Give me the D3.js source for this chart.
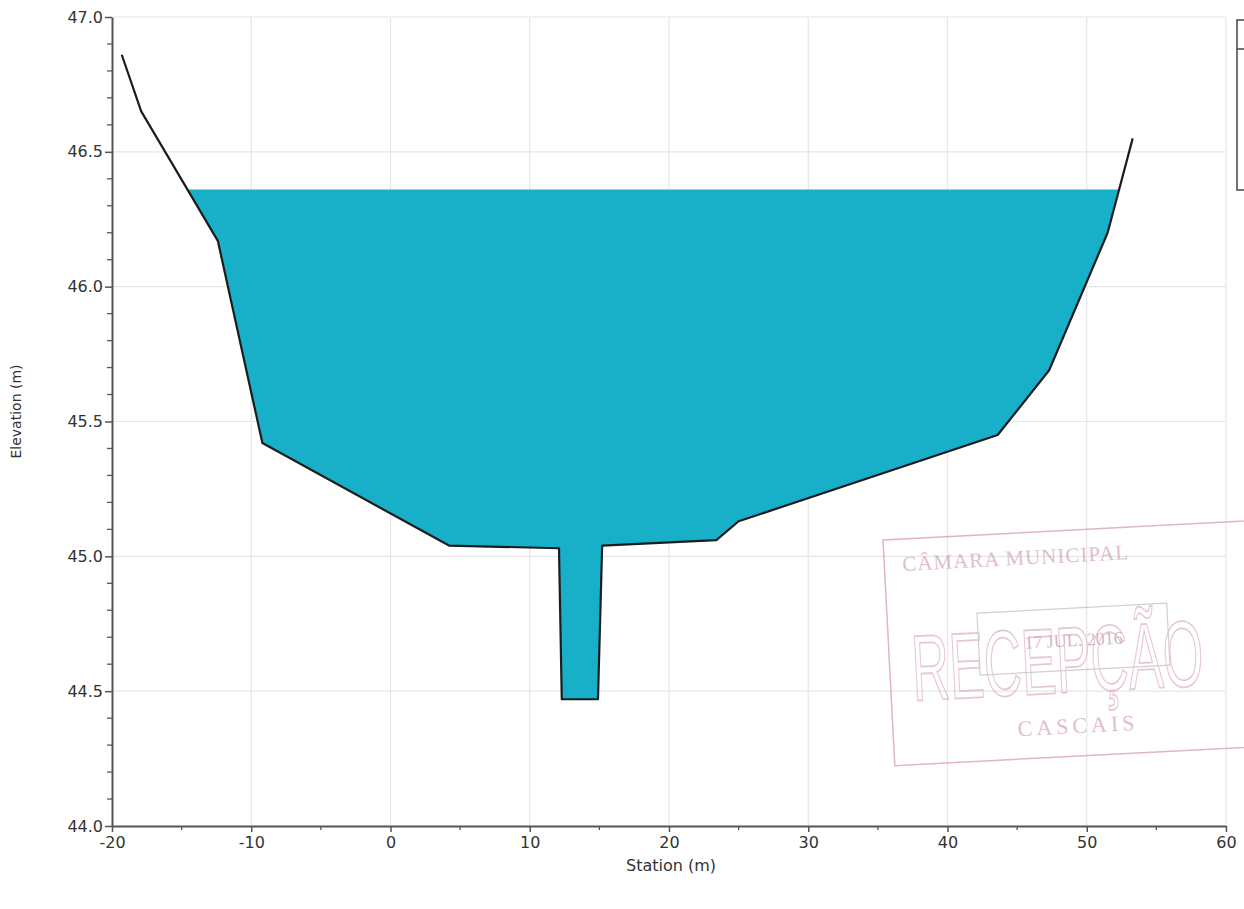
<!DOCTYPE html>
<html><head><meta charset="utf-8">
<script src="https://cdn.jsdelivr.net/npm/d3@7"></script>
<style>body{margin:0;background:#fff;} text{font-family:"DejaVu Sans",Arial,sans-serif;}</style>
</head><body>
<svg id="c" width="1244" height="909"></svg>
<script>
// Ground profile (station m, elevation m)
const station   = [-19.3, -17.9, -12.4, -9.2, 4.2, 12.1, 12.3, 14.9, 15.2, 23.4, 25.0, 43.6, 47.3, 51.5, 53.3];
const elevation = [46.86, 46.65, 46.17, 45.42, 45.04, 45.03, 44.47, 44.47, 45.04, 45.06, 45.13, 45.45, 45.69, 46.20, 46.55];
const waterLevel = 46.36;
const xTicks = [-20, -10, 0, 10, 20, 30, 40, 50, 60];
const yTicks = [44.0, 44.5, 45.0, 45.5, 46.0, 46.5, 47.0];
const xLabel = "Station (m)";
const yLabel = "Elevation (m)";

const svg = d3.select("#c");
const L = 112, R = 1226, T = 17, B = 826;
const x = d3.scaleLinear().domain([-20, 60]).range([L, R]);
const y = d3.scaleLinear().domain([44, 47]).range([B, T]);
const FONT = "'DejaVu Sans', Arial, sans-serif";

// grid
svg.append("g").selectAll("line").data(xTicks.slice(1)).join("line")
  .attr("x1", d => x(d)).attr("x2", d => x(d)).attr("y1", T).attr("y2", B)
  .attr("stroke", "#e6e6e6").attr("stroke-width", 1.2);
svg.append("g").selectAll("line").data(yTicks.slice(1)).join("line")
  .attr("x1", L).attr("x2", R).attr("y1", d => y(d)).attr("y2", d => y(d))
  .attr("stroke", "#e6e6e6").attr("stroke-width", 1.2);

// water polygon: ground below water level, clipped at intersections
const pts = station.map((s, i) => [s, elevation[i]]);
function crossings() {
  const out = [];
  for (let i = 0; i < pts.length - 1; i++) {
    const [x0, y0] = pts[i], [x1, y1] = pts[i + 1];
    if ((y0 - waterLevel) * (y1 - waterLevel) < 0) {
      const t = (waterLevel - y0) / (y1 - y0);
      out.push({i, s: x0 + t * (x1 - x0)});
    }
  }
  return out;
}
const cr = crossings();
const a = cr[0], b = cr[cr.length - 1];
const poly = [[a.s, waterLevel]];
for (let i = a.i + 1; i <= b.i; i++) poly.push(pts[i]);
poly.push([b.s, waterLevel]);
svg.append("path")
  .attr("d", d3.line().x(d => x(d[0])).y(d => y(d[1]))(poly) + "Z")
  .attr("fill", "#18afc8");

// ground line
svg.append("path").datum(pts)
  .attr("d", d3.line().x(d => x(d[0])).y(d => y(d[1])))
  .attr("fill", "none").attr("stroke", "#1c1c1c").attr("stroke-width", 2.2)
  .attr("stroke-linejoin", "round");

// axes
const xAxis = d3.axisBottom(x).tickValues(xTicks).tickFormat(d => String(d)).tickSize(6).tickSizeOuter(0);
const gx = svg.append("g").attr("transform", `translate(0,${B})`).call(xAxis);
const yAxis = d3.axisLeft(y).tickValues(yTicks).tickFormat(d => d.toFixed(1)).tickSize(7).tickSizeOuter(0);
const gy = svg.append("g").attr("transform", `translate(${L},0)`).call(yAxis);
[gx, gy].forEach(g => {
  g.attr("font-family", FONT).attr("font-size", 16);
  g.select(".domain").attr("stroke", "#555").attr("stroke-width", 2);
  g.selectAll(".tick line").attr("stroke", "#555").attr("stroke-width", 1.5);
  g.selectAll(".tick text").attr("fill", "#333").style("font-size", "16px").style("font-family", FONT);
});
gx.selectAll(".tick text").attr("dy", "0.8em").attr("y", 9);
gy.selectAll(".tick text").attr("x", -9);
// minor ticks
svg.append("g").selectAll("line").data(d3.range(-15, 60, 10)).join("line")
  .attr("x1", d => x(d)).attr("x2", d => x(d)).attr("y1", B).attr("y2", B + 4)
  .attr("stroke", "#555").attr("stroke-width", 1.3);
svg.append("g").selectAll("line").data(d3.range(44, 47.001, 0.1).filter(v => Math.abs(v * 2 - Math.round(v * 2)) > 0.01)).join("line")
  .attr("x1", L - 5).attr("x2", L).attr("y1", d => y(d)).attr("y2", d => y(d))
  .attr("stroke", "#555").attr("stroke-width", 1.3);

// axis titles
svg.append("text").attr("x", (L + R) / 2 + 2).attr("y", 871).attr("text-anchor", "middle")
  .style("font-size", "16px").style("font-family", FONT).attr("fill", "#333").text(xLabel);
svg.append("text").attr("transform", `translate(21,${(T + B) / 2 - 10}) rotate(-90)`).attr("text-anchor", "middle")
  .style("font-size", "14px").style("font-family", FONT).attr("fill", "#333").text(yLabel);

// legend box (cut at right edge)
svg.append("rect").attr("x", 1237).attr("y", 20).attr("width", 30).attr("height", 170)
  .attr("fill", "#fff").attr("stroke", "#444").attr("stroke-width", 1.5);
svg.append("line").attr("x1", 1237).attr("x2", 1244).attr("y1", 49).attr("y2", 49)
  .attr("stroke", "#444").attr("stroke-width", 1.5);

// stamp (scanned document mark)
const st = svg.append("g").attr("transform", "translate(883,540) rotate(-3)").attr("opacity", 0.55);
st.append("rect").attr("x", 0).attr("y", 0).attr("width", 420).attr("height", 226)
  .attr("fill", "none").attr("stroke", "#c77a9a").attr("stroke-width", 1.5);
st.append("text").attr("x", 18).attr("y", 32).style("font-size", "21px").attr("fill", "#c98aa6")
  .style("font-family", "'Liberation Serif', serif").attr("letter-spacing", 1).text("CÂMARA MUNICIPAL");
st.append("text").attr("transform", "translate(22,162) scale(1,1.8)").style("font-size", "52px").attr("fill", "none")
  .attr("stroke", "#d79ab4").attr("stroke-width", 1).style("font-family", "'Liberation Sans', Arial, sans-serif")
  .text("RECEPÇÃO");
st.append("rect").attr("x", 90).attr("y", 78).attr("width", 190).attr("height", 62)
  .attr("fill", "none").attr("stroke", "#aaa").attr("stroke-width", 1.2);
st.append("text").attr("x", 185).attr("y", 116).attr("text-anchor", "middle").style("font-size", "18px").attr("fill", "#b07a90")
  .style("font-family", "'Liberation Serif', serif").text("17 JUL. 2016");
st.append("text").attr("x", 185).attr("y", 203).attr("text-anchor", "middle").style("font-size", "22px").attr("fill", "#c98aa6")
  .style("font-family", "'Liberation Serif', serif").attr("letter-spacing", 4).text("CASCAIS");
</script>
</body></html>
